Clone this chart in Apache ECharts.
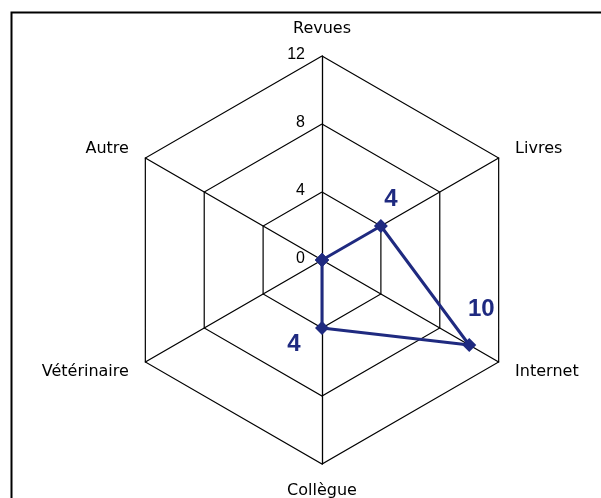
<!DOCTYPE html>
<html><head><meta charset="utf-8">
<script src="https://cdn.jsdelivr.net/npm/echarts@6/dist/echarts.min.js"></script>
<style>html,body{margin:0;padding:0;background:#fff}#c{width:601px;height:498px}</style>
</head><body><div id="c"></div>
<script>
// categories listed clockwise from the top
const categories = ['Revues', 'Livres', 'Internet', 'Collègue', 'Vétérinaire', 'Autre'];
const values = [0, 4, 10, 4, 0, 0];
const axisMax = 12;
const tickStep = 4;

// ECharts radar runs counter-clockwise: reorder so the picture runs clockwise
const order = [0, 5, 4, 3, 2, 1];
const indNames = order.map(i => categories[i]);
const indValues = order.map(i => values[i]);

const chart = echarts.init(document.getElementById('c'));
const navy = '#1f2a80';
const frame = {
  type: 'rect', left: 9, top: 10,
  shape: { width: 620, height: 500 },
  style: { fill: 'none', stroke: '#000', lineWidth: 2 }
};
chart.setOption({
  backgroundColor: '#fff',
  animation: false,
  radar: {
    center: [322, 260],
    radius: 204,
    startAngle: 90,
    splitNumber: axisMax / tickStep,
    shape: 'polygon',
    indicator: indNames.map(n => ({ name: n, max: axisMax, min: 0 })),
    axisName: { color: '#000', fontFamily: 'DejaVu Sans', fontSize: 16 },
    nameGap: 19,
    axisLine: { lineStyle: { color: '#000', width: 1.3 } },
    splitLine: { lineStyle: { color: '#000', width: 1.2 } },
    splitArea: { show: false },
    axisTick: { show: false },
    axisLabel: { show: false }
  },
  series: [{
    type: 'radar',
    symbol: 'diamond',
    symbolSize: 14,
    lineStyle: { color: navy, width: 3 },
    itemStyle: { color: navy },
    data: [{ value: indValues }]
  }]
});

const rc = chart.getModel().getComponent('radar').coordinateSystem;
const g = [frame];
// tick labels along the top axis
for (let v = 0; v <= axisMax; v += tickStep) {
  const pt = rc.dataToPoint(v, 0);
  g.push({
    type: 'text', x: pt[0] - 17, y: pt[1] - 1,
    style: { text: String(v), fill: '#000', font: '16px "Liberation Sans"', align: 'right', verticalAlign: 'middle' }
  });
}
// value labels next to non-zero points
const labelOffsets = { 'Livres': [10, -27], 'Internet': [12, -36], 'Collègue': [-28, 16] };
indNames.forEach((n, k) => {
  const v = indValues[k];
  if (!v) return;
  const pt = rc.dataToPoint(v, k);
  const o = labelOffsets[n];
  g.push({
    type: 'text', x: pt[0] + o[0], y: pt[1] + o[1],
    style: { text: String(v), fill: navy, font: 'bold 24px "Liberation Sans"', align: 'center', verticalAlign: 'middle' }
  });
});
chart.setOption({ graphic: g });
</script></body></html>
